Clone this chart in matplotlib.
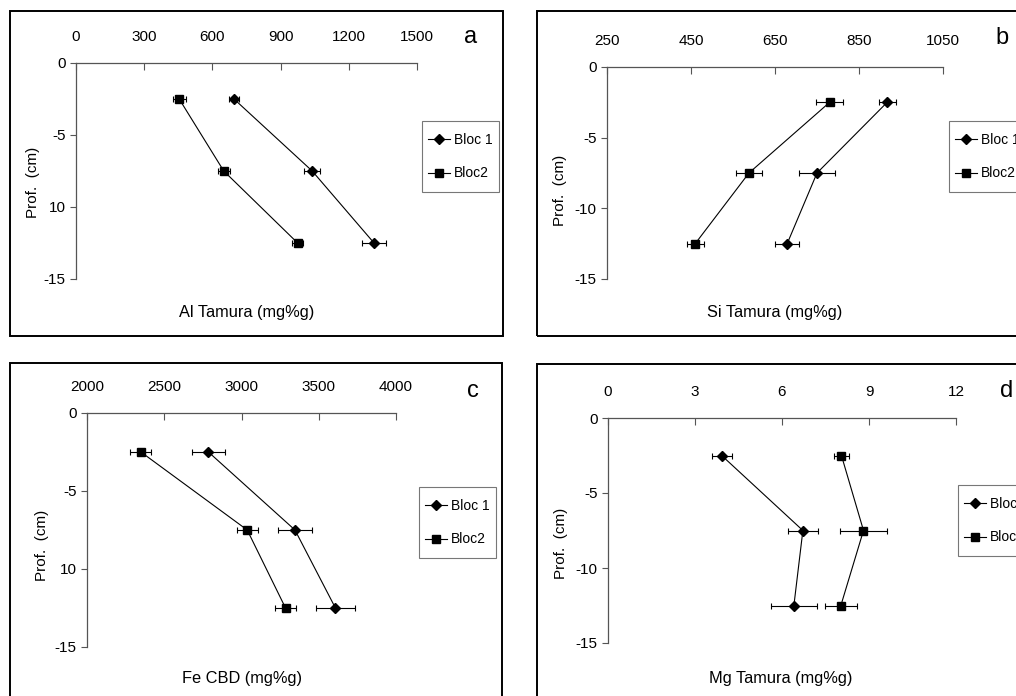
import matplotlib
matplotlib.use("Agg")
import matplotlib.pyplot as plt
from matplotlib.patches import Rectangle
from matplotlib.lines import Line2D
from matplotlib.legend_handler import HandlerLine2D

plt.rcParams['font.family'] = ['Liberation Sans', 'DejaVu Sans']

# depths (cm)
depth = [-2.5, -7.5, -12.5]

# a - Al Tamura
al_b1 = [695, 1039, 1311]
al_b1_err = [22, 34, 51]
al_b2 = [454, 650, 975]
al_b2_err = [29, 26, 23]

# b - Si Tamura
si_b1 = [917, 750, 679]
si_b1_err = [20, 42, 29]
si_b2 = [780, 588, 460]
si_b2_err = [33, 32, 20]

# c - Fe CBD
fe_b1 = [2786, 3346, 3608]
fe_b1_err = [108, 110, 129]
fe_b2 = [2349, 3037, 3285]
fe_b2_err = [68, 68, 70]

# d - Mg Tamura
mg_b1 = [3.92, 6.72, 6.41]
mg_b1_err = [0.34, 0.53, 0.80]
mg_b2 = [8.05, 8.81, 8.03]
mg_b2_err = [0.26, 0.81, 0.56]

y_ticks = [0, -5, -10, -15]

W, H = 1016, 696
fig = plt.figure(figsize=(W / 100, H / 100), dpi=100)

D_SIZE = 5
S_SIZE = 6.3


class CenteredLine(HandlerLine2D):
    # keep the legend line at text height even with tall rows
    def create_artists(self, legend, orig_handle, xdescent, ydescent, width, height,
                       fontsize, trans):
        return super().create_artists(legend, orig_handle, xdescent, ydescent, width,
                                      0.7 * fontsize + ydescent, fontsize, trans)


def px_rect(x0, y0, x1, y1):
    return [x0 / W, 1 - y1 / H, (x1 - x0) / W, (y1 - y0) / H]


def panel(ax_px, box_px, leg_px, ylab_px, xlab_px, letter_px, letter,
          b1, e1, b2, e2, xticks, xlabel, ytlabels):
    # outer frame
    bx0, by0, bx1, by1 = box_px
    fig.patches.append(Rectangle((bx0 / W, 1 - by1 / H), (bx1 - bx0) / W, (by1 - by0) / H,
                                 transform=fig.transFigure, fill=False,
                                 edgecolor='black', linewidth=1.4))
    ax = fig.add_axes(px_rect(*ax_px))
    ax.errorbar(b1, depth, xerr=e1, color='black', marker='D', markersize=D_SIZE,
                linewidth=0.8, elinewidth=0.8, capsize=2.5, capthick=0.8)
    ax.errorbar(b2, depth, xerr=e2, color='black', marker='s', markersize=S_SIZE,
                linewidth=0.8, elinewidth=0.8, capsize=2.5, capthick=0.8)
    ax.set_xlim(xticks[0], xticks[-1])
    ax.set_ylim(-15, 0)
    ax.set_xticks(xticks)
    ax.set_yticks(y_ticks)
    ax.set_yticklabels(ytlabels)
    ax.xaxis.tick_top()
    ax.tick_params(axis='x', direction='in', length=5, width=0.8, color='#555555',
                   pad=14, labelsize=11)
    ax.tick_params(axis='y', direction='out', length=4.5, width=0.8, color='#555555',
                   pad=3, labelsize=11)
    for s in ['right', 'bottom']:
        ax.spines[s].set_visible(False)
    for s in ['top', 'left']:
        ax.spines[s].set_color('#555555')
        ax.spines[s].set_linewidth(0.9)
    ax.patch.set_alpha(0)

    handles = [Line2D([], [], color='black', marker='D', markersize=D_SIZE, linewidth=0.8),
               Line2D([], [], color='black', marker='s', markersize=S_SIZE, linewidth=0.8)]
    lx0, ly0, lx1, ly1 = leg_px
    leg = ax.legend(handles, ['Bloc 1', 'Bloc2'], loc='upper left',
                    bbox_to_anchor=(lx0 / W, 1 - ly0 / H),
                    bbox_transform=fig.transFigure, fontsize=10, frameon=True,
                    fancybox=False, edgecolor='#555555', handlelength=1.55,
                    handleheight=2.4, handletextpad=0.3, labelspacing=0.6,
                    borderpad=0.45, borderaxespad=0,
                    handler_map={Line2D: CenteredLine()})
    leg.get_frame().set_linewidth(0.8)

    fig.text(ylab_px[0] / W, 1 - ylab_px[1] / H, 'Prof.  (cm)', rotation=90,
             ha='center', va='center', fontsize=11)
    fig.text(xlab_px[0] / W, 1 - xlab_px[1] / H, xlabel, ha='center', va='center',
             fontsize=11.8)
    fig.text(letter_px[0] / W, 1 - letter_px[1] / H, letter, ha='center', va='center',
             fontsize=17)


panel((76, 63, 417, 279), (10, 11, 503, 336), (422, 121, 497, 191), (33, 182),
      (247, 313), (471, 37), 'a', al_b1, al_b1_err, al_b2, al_b2_err,
      [0, 300, 600, 900, 1200, 1500], 'Al Tamura (mg%g)', ['0', '-5', '10', '-15'])

panel((607, 67, 943, 279), (537, 11, 1040, 336), (949, 121, 1024, 192), (560, 190),
      (775, 312), (1002, 38), 'b', si_b1, si_b1_err, si_b2, si_b2_err,
      [250, 450, 650, 850, 1050], 'Si Tamura (mg%g)', ['0', '-5', '-10', '-15'])

panel((87, 413, 396, 647), (10, 363, 502, 720), (419, 487, 495, 560), (42, 545),
      (242, 679), (473, 391), 'c', fe_b1, fe_b1_err, fe_b2, fe_b2_err,
      [2000, 2500, 3000, 3500, 4000], 'Fe CBD (mg%g)', ['0', '-5', '10', '-15'])

panel((608, 418, 956, 643), (537, 364, 1040, 720), (958, 485, 1033, 554), (561, 543),
      (781, 678), (1007, 391), 'd', mg_b1, mg_b1_err, mg_b2, mg_b2_err,
      [0, 3, 6, 9, 12], 'Mg Tamura (mg%g)', ['0', '-5', '-10', '-15'])

fig.savefig('out.png', dpi=100)
